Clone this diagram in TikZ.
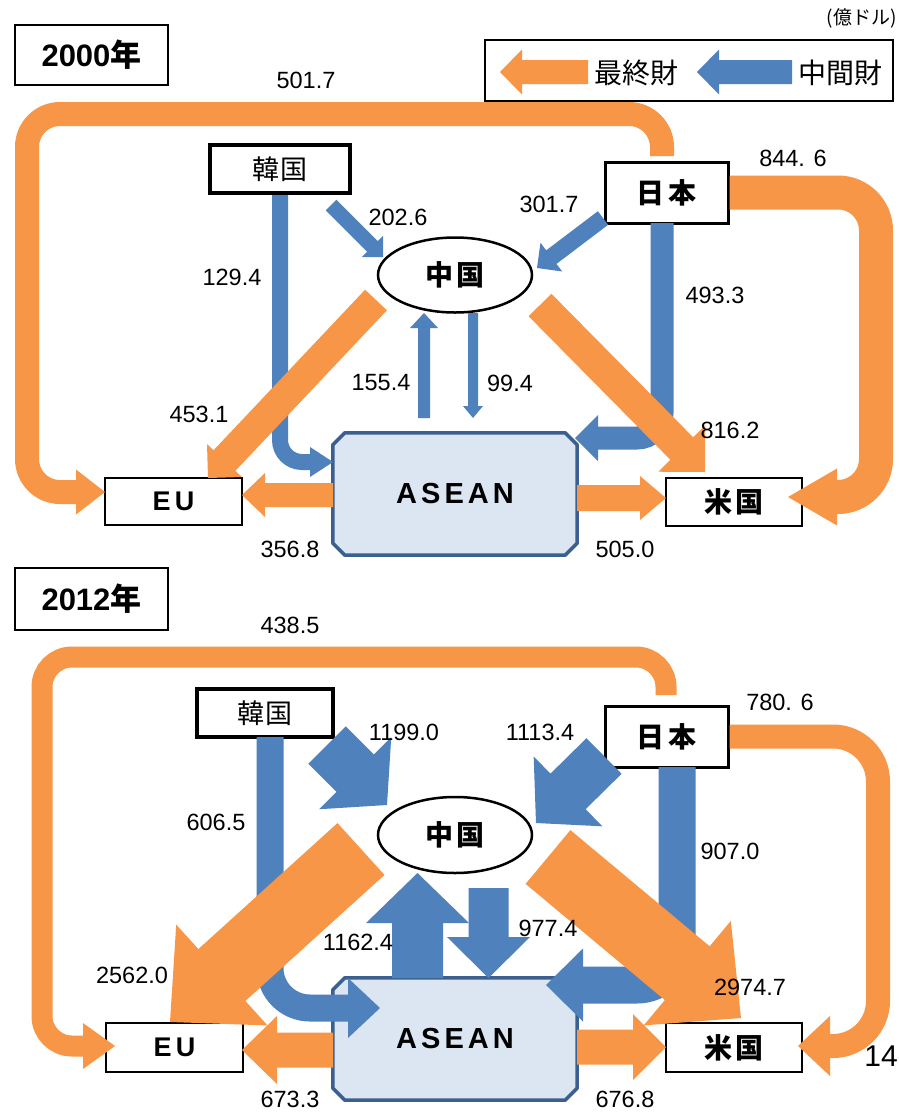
\documentclass[tikz,border=0pt]{standalone}
\usepackage{fontspec}
\setmainfont{Liberation Sans}
\newfontfamily\jp{Noto Sans CJK JP}
\usetikzlibrary{calc,shapes.geometric}
\definecolor{oraC}{HTML}{F79646}
\definecolor{bluC}{HTML}{4F81BD}
\definecolor{asnFill}{HTML}{DCE6F2}
\definecolor{asnLine}{HTML}{3B5F8E}
\pgfdeclarelayer{bg}
\pgfsetlayers{bg,main}
% straight block arrow: style, start, tip, half shaft, half head, head length
\newcommand\sarrow[6]{%
  \coordinate (hb) at ($(#3)!#6!(#2)$);
  \fill[#1] ($(#2)!#4!90:(#3)$) -- ($(hb)!#4!90:(#3)$) -- ($(hb)!#5!90:(#3)$) -- (#3)
    -- ($(hb)!#5!-90:(#3)$) -- ($(hb)!#4!-90:(#3)$) -- ($(#2)!#4!-90:(#3)$) -- cycle;}
% arrow head: style, head back centre, tip, half head
\newcommand\ahead[4]{%
  \fill[#1] ($(#2)!#4!90:(#3)$) -- (#3) -- ($(#2)!#4!-90:(#3)$) -- cycle;}
% chamfered box drawn behind a named node
\newcommand\asnbox[1]{%
  \begin{pgfonlayer}{bg}
  \filldraw[draw=asnLine, fill=asnFill, line width=3.5pt, line join=round]
    ($(#1.north west)+(12,0)$) -- ($(#1.north east)+(-12,0)$) -- ($(#1.north east)+(0,12)$)
    -- ($(#1.south east)+(0,-12)$) -- ($(#1.south east)+(-12,0)$) -- ($(#1.south west)+(12,0)$)
    -- ($(#1.south west)+(0,-12)$) -- ($(#1.north west)+(0,12)$) -- cycle;
  \end{pgfonlayer}}
\begin{document}
\begin{tikzpicture}[x=1pt,y=-1pt,
  ofill/.style={fill=oraC}, bfill/.style={fill=bluC},
  oline/.style={draw=oraC}, bline/.style={draw=bluC},
  num/.style={font=\fontsize{23.5}{28}\selectfont, inner sep=0pt},
  cbox/.style={draw=black, fill=white, line width=2.5pt, inner sep=0pt, font=\fontsize{27}{30}\selectfont},
  yrbox/.style={draw=black, fill=white, line width=2pt, inner sep=0pt, minimum width=153pt, minimum height=60pt, font=\bfseries\fontsize{31}{34}\selectfont},
  chn/.style={draw=black, fill=white, ellipse, line width=2.5pt, inner sep=0pt, minimum width=154pt, minimum height=75pt, font=\jp\bfseries\fontsize{28}{30}\selectfont},
  asn/.style={rectangle, minimum width=244pt, minimum height=122pt, inner sep=0pt, font=\bfseries\fontsize{29}{32}\selectfont},
  jptxt/.style={font=\jp\fontsize{28}{30}\selectfont, inner sep=0pt}
]
\begin{pgfonlayer}{bg}
\fill[white] (0,0) rectangle (899,1112);
\end{pgfonlayer}
\useasboundingbox (0,0) rectangle (899,1112);

% ================= 2000 =================
\node[yrbox] (yr00) at (91.5,55) {2000{\jp\bfseries 年}};
\node[font=\jp\fontsize{19}{22}\selectfont, inner sep=0pt, anchor=east] (unit) at (897,18) {(億ドル)};
\node[draw=black, line width=2pt, minimum width=408pt, minimum height=61pt, inner sep=0pt] (leg) at (689,70.5) {};
\coordinate (lo1) at (588,72); \coordinate (lo2) at (500,72);
\sarrow{ofill}{lo1}{lo2}{12pt}{22.5pt}{22pt}
\node[jptxt, anchor=west] (legO) at (594,73) {最終財};
\coordinate (lb1) at (792,72); \coordinate (lb2) at (697,72);
\sarrow{bfill}{lb1}{lb2}{12pt}{22.5pt}{22pt}
\node[jptxt, anchor=west] (legB) at (798,73) {中間財};

\node[cbox, line width=4pt, minimum width=140pt, minimum height=48pt, font=\jp\fontsize{27}{30}\selectfont] (kor00) at (280,169) {韓\kern1pt 国};
\node[cbox, line width=3pt, minimum width=123pt, minimum height=61pt, font=\jp\bfseries\fontsize{28}{30}\selectfont] (jpn00) at (666.5,192.5) {日\kern5pt 本};
\node[chn] (chn00) at (455,275) {中\kern4pt 国};
\node[asn] (asn00) at (455,494) {A\kern4pt S\kern4pt E\kern4pt A\kern4pt N};
\asnbox{asn00}
\node[cbox, minimum width=137pt, minimum height=47pt, font=\bfseries\fontsize{27}{30}\selectfont] (eu00) at (173.5,501.5) {E\kern4pt U};
\node[cbox, minimum width=136pt, minimum height=48pt, font=\jp\bfseries\fontsize{28}{30}\selectfont] (us00) at (734,502) {米\kern4pt 国};

% blue flows 2000
\draw[bline, line width=16pt, rounded corners=22pt] (kor00.south) -- (280,462) -- (311,462);
\ahead{bfill}{310,462}{333,462}{15pt}
\coordinate (b2s) at (331,205); \coordinate (b2t) at (383,257);
\sarrow{bfill}{b2s}{b2t}{7.5pt}{15pt}{15pt}
\coordinate (b3s) at (603,218); \coordinate (b3t) at (537,268);
\sarrow{bfill}{b3s}{b3t}{8.5pt}{18pt}{18pt}
\draw[bline, line width=23pt, rounded corners=25pt] (662,223) -- (662,438) -- (597,438);
\ahead{bfill}{598,438}{575,438}{23pt}
\coordinate (b5s) at (424,418); \coordinate (b5t) at (424,313);
\sarrow{bfill}{b5s}{b5t}{6pt}{14pt}{15pt}
\coordinate (b6s) at (473,313); \coordinate (b6t) at (473,418);
\sarrow{bfill}{b6s}{b6t}{5pt}{10pt}{12pt}

% orange flows 2000
\draw[oline, line width=24pt, rounded corners=33pt] (662,156) -- (662,114) -- (27,114) -- (27,492) -- (77,492);
\ahead{ofill}{76,492}{105,492}{22.5pt}
\draw[oline, line width=34pt, rounded corners=38pt] (jpn00.east) -- (876,192.5) -- (876,497) -- (836,497);
\ahead{ofill}{837,497}{788,497}{28.5pt}
\coordinate (o3s) at (376,300); \coordinate (o3t) at (208,478);
\sarrow{ofill}{o3s}{o3t}{15pt}{24pt}{24pt}
\coordinate (o4s) at (540,305); \coordinate (o4t) at (705,472);
\sarrow{ofill}{o4s}{o4t}{16pt}{33pt}{33pt}
\coordinate (o5s) at (333,495); \coordinate (o5t) at (242,495);
\sarrow{ofill}{o5s}{o5t}{12pt}{22pt}{23pt}
\coordinate (o6s) at (577,498); \coordinate (o6t) at (666,498);
\sarrow{ofill}{o6s}{o6t}{13pt}{22pt}{26pt}

\node[num] (n01) at (306,80) {501.7};
\node[num] (n02) at (793,158) {844. 6};
\node[num] (n03) at (398,217) {202.6};
\node[num] (n04) at (549,204) {301.7};
\node[num] (n05) at (232,277) {129.4};
\node[num] (n06) at (715,295) {493.3};
\node[num] (n07) at (381,383) {155.4};
\node[num] (n08) at (510,383) {99.4};
\node[num] (n09) at (199,414) {453.1};
\node[num] (n10) at (730,430) {816.2};
\node[num] (n11) at (290,549) {356.8};
\node[num] (n12) at (625,549) {505.0};

% ================= 2012 =================
\node[yrbox, minimum height=62pt] (yr12) at (91.5,599) {2012{\jp\bfseries 年}};
\node[cbox, line width=3.5pt, minimum width=136pt, minimum height=48pt, font=\jp\fontsize{27}{30}\selectfont] (kor12) at (265,713) {韓\kern1pt 国};
\node[cbox, line width=3pt, minimum width=123pt, minimum height=61pt, font=\jp\bfseries\fontsize{28}{30}\selectfont] (jpn12) at (666.5,736.5) {日\kern5pt 本};
\node[chn, minimum height=76pt] (chn12) at (455,835) {中\kern4pt 国};
\node[asn] (asn12) at (455,1039) {A\kern4pt S\kern4pt E\kern4pt A\kern4pt N};
\asnbox{asn12}
\node[cbox, minimum width=137pt, minimum height=49pt, font=\bfseries\fontsize{27}{30}\selectfont] (eu12) at (174.5,1047.5) {E\kern4pt U};
\node[cbox, minimum width=136pt, minimum height=49pt, font=\jp\bfseries\fontsize{28}{30}\selectfont] (us12) at (734,1047.5) {米\kern4pt 国};

% blue flows 2012
\draw[bline, line width=27pt, rounded corners=40pt] (270,737) -- (270,1008) -- (349,1008);
\ahead{bfill}{348,1008}{380,1008}{30pt}
\coordinate (c2s) at (327,745); \coordinate (c2t) at (387,805);
\sarrow{bfill}{c2s}{c2t}{26.5pt}{51pt}{45pt}
\coordinate (c3s) at (604,756); \coordinate (c3t) at (536,823);
\sarrow{bfill}{c3s}{c3t}{25pt}{49pt}{45pt}
\draw[bline, line width=37pt, rounded corners=40pt] (677,767) -- (677,985) -- (582,985);
\ahead{bfill}{583,985}{546,985}{36.5pt}
\coordinate (c5s) at (417.5,978); \coordinate (c5t) at (417.5,873);
\sarrow{bfill}{c5s}{c5t}{25.5pt}{51.5pt}{50pt}
\coordinate (c6s) at (488.5,888); \coordinate (c6t) at (488.5,978);
\sarrow{bfill}{c6s}{c6t}{20pt}{41.5pt}{41pt}

% orange flows 2012
\draw[oline, line width=21pt, rounded corners=30pt] (666,695) -- (666,657) -- (42,657) -- (42,1046) -- (84,1046);
\ahead{ofill}{83,1046}{115,1046}{23pt}
\draw[oline, line width=24pt, rounded corners=45pt] (jpn12.east) -- (878,736.5) -- (878,1046) -- (829,1046);
\ahead{ofill}{830,1046}{798,1046}{30pt}
\coordinate (p3s) at (361,849); \coordinate (p3t) at (170,1022);
\sarrow{ofill}{p3s}{p3t}{35pt}{68pt}{70pt}
\coordinate (p4s) at (548,857); \coordinate (p4t) at (741,1018);
\sarrow{ofill}{p4s}{p4t}{35pt}{68pt}{70pt}
\coordinate (p5s) at (333,1050); \coordinate (p5t) at (242,1050);
\sarrow{ofill}{p5s}{p5t}{17.5pt}{34pt}{35pt}
\coordinate (p6s) at (577,1047); \coordinate (p6t) at (666,1047);
\sarrow{ofill}{p6s}{p6t}{17.5pt}{33pt}{33pt}

\node[num] (m01) at (290,625) {438.5};
\node[num] (m02) at (780,702) {780. 6};
\node[num] (m03) at (404,732) {1199.0};
\node[num] (m04) at (540,732) {1113.4};
\node[num] (m05) at (216,822) {606.5};
\node[num] (m06) at (730,851) {907.0};
\node[num] (m07) at (358,942) {1162.4};
\node[num] (m08) at (548,928) {977.4};
\node[num] (m09) at (132,975) {2562.0};
\node[num] (m10) at (750,987) {2974.7};
\node[num] (m11) at (290,1099) {673.3};
\node[num] (m12) at (625,1099) {676.8};

\node[font=\fontsize{30}{32}\selectfont, inner sep=0pt, anchor=east] (pg) at (898,1056) {14};
\end{tikzpicture}
\end{document}
